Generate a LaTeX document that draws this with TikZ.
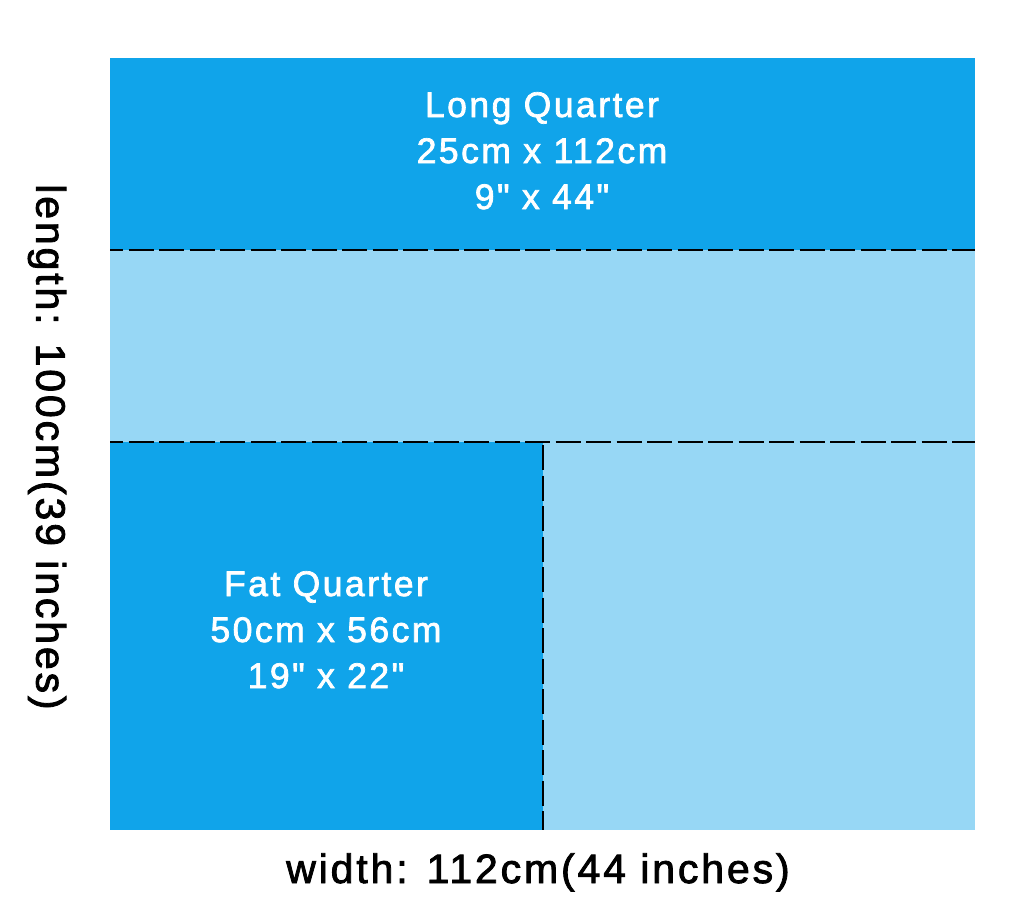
\documentclass[tikz,border=0pt]{standalone}
\usepackage{fontspec}
\usetikzlibrary{backgrounds,calc}
\newfontfamily\cutfont[LetterSpace=7,FakeBold=2]{Liberation Sans}
\definecolor{fatblue}{RGB}{16,164,234}
\definecolor{paleblue}{RGB}{151,215,245}
\begin{document}
\begin{tikzpicture}[x=1pt,y=-1pt,
	cutline/.style={black, line width=1.6pt, dash pattern=on 25pt off 5.5pt},
	whitetext/.style={white, anchor=base, inner sep=0pt, font=\cutfont\fontsize{35.5}{46}\selectfont},
	dimtext/.style={black, inner sep=0pt, font=\cutfont\fontsize{41}{48}\selectfont}]
		\useasboundingbox (0,0) rectangle (1024,914);
		\fill[white] (0,0) rectangle (1024,914);
		\fill[fatblue]  (110,58) rectangle (975,250);
		\fill[paleblue] (110,250) rectangle (975,442);
		\fill[fatblue]  (110,442) rectangle (543,830);
		\fill[paleblue] (543,442) rectangle (975,830);
		\draw[cutline, dash phase=12pt] (110,250) -- (975,250);
		\draw[cutline, dash phase=12pt] (110,442) -- (975,442);
		\draw[cutline, dash phase=-3pt] (543,442) -- (543,830);
		\node[whitetext] (long1) at (542,117) {Long Quarter};
		\node[whitetext] (long2) at (542,163) {25cm x 112cm};
		\node[whitetext] (long3) at (542,209) {9" x 44"};
		\node[whitetext] (fat1) at (326,596) {Fat Quarter};
		\node[whitetext] (fat2) at (326,642) {50cm x 56cm};
		\node[whitetext] (fat3) at (326,688) {19" x 22"};
		\node[dimtext, anchor=base] (width) at (538,883) {width: 112cm(44 inches)};
		\node[dimtext, rotate=-90] (length) at (47,447) {length: 100cm(39 inches)};
\end{tikzpicture}
\end{document}
